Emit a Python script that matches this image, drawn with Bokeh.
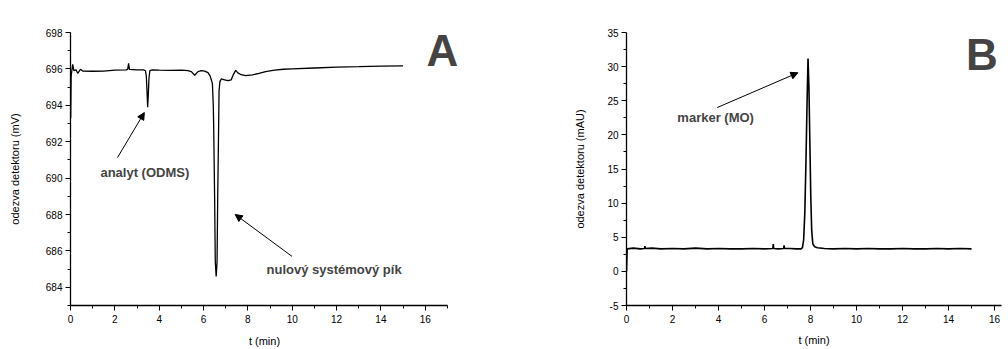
from bokeh.plotting import figure
from bokeh.layouts import row
from bokeh.models import (Label, Arrow, NormalHead, FixedTicker, Range1d)
from bokeh.embed import file_html
from bokeh.resources import INLINE

# ---------------- data ----------------
a_time = [0.00, 0.01, 0.03, 0.06, 0.10, 0.15, 0.25, 0.33, 0.45, 0.55, 1.0, 1.5, 2.0, 2.5,
          2.58, 2.62, 2.66, 3.0, 3.3, 3.38, 3.42, 3.45, 3.48, 3.51, 3.54, 3.58, 3.7,
          4.0, 4.5, 5.0, 5.3, 5.45, 5.6, 5.75, 5.9, 6.05, 6.2, 6.3, 6.4, 6.44, 6.46,
          6.5, 6.53, 6.57, 6.61, 6.64, 6.68, 6.70, 6.74, 6.8, 6.95, 7.1, 7.25, 7.35,
          7.45, 7.55, 7.7, 7.9, 8.2, 8.5, 8.8, 9.2, 9.6, 10.0, 11.0, 12.0, 13.0, 14.0, 15.0]
a_signal = [695.8, 693.3, 695.6, 695.9, 696.25, 695.9, 695.95, 695.75, 695.98, 695.88,
            695.87, 695.88, 695.93, 695.95, 695.97, 696.3, 695.97, 695.95, 695.95, 695.9,
            695.6, 694.8, 693.9, 694.6, 695.5, 695.9, 695.95, 695.93, 695.92, 695.93,
            695.9, 695.85, 695.65, 695.85, 695.9, 695.88, 695.8, 695.6, 695.2, 694.0,
            692.7, 689.0, 685.4, 684.6, 685.4, 689.0, 692.7, 694.8, 695.3, 695.45, 695.4,
            695.35, 695.4, 695.7, 695.92, 695.78, 695.68, 695.63, 695.67, 695.75, 695.85,
            695.93, 695.98, 696.0, 696.05, 696.1, 696.12, 696.15, 696.17]

b_time = [0.00, 0.03, 0.3, 0.6, 0.78, 0.8, 0.82, 1.1, 1.5, 2.0, 2.5, 3.0, 3.5, 4.0, 4.5,
          5.0, 5.5, 6.0, 6.36, 6.38, 6.40, 6.6, 6.83, 6.85, 6.87, 7.1, 7.4, 7.6, 7.65,
          7.7, 7.75, 7.8, 7.85, 7.89, 7.93, 7.97, 8.01, 8.05, 8.1, 8.18, 8.3, 8.6, 9.0,
          9.5, 10.0, 10.5, 11.0, 11.5, 12.0, 12.5, 13.0, 13.5, 14.0, 14.5, 15.0]
b_signal = [0.0, 3.3, 3.4, 3.3, 3.35, 3.7, 3.35, 3.4, 3.3, 3.35, 3.3, 3.4, 3.3, 3.35, 3.3,
            3.3, 3.35, 3.3, 3.35, 4.0, 3.35, 3.3, 3.35, 3.8, 3.35, 3.35, 3.3, 3.3, 3.5,
            4.6, 8.5, 16.0, 25.0, 31.2, 27.0, 19.0, 11.0, 6.0, 4.0, 3.6, 3.45, 3.35, 3.3,
            3.35, 3.3, 3.35, 3.3, 3.3, 3.35, 3.3, 3.3, 3.35, 3.3, 3.35, 3.3]

x_ticks = [0, 2, 4, 6, 8, 10, 12, 14, 16]
x_minor = [1, 3, 5, 7, 9, 11, 13, 15, 17]
a_yticks = [684, 686, 688, 690, 692, 694, 696, 698]
a_yminor = [683, 685, 687, 689, 691, 693, 695, 697]
b_yticks = [-5, 0, 5, 10, 15, 20, 25, 30, 35]
b_yminor = [-2.5, 2.5, 7.5, 12.5, 17.5, 22.5, 27.5, 32.5]

FONT = "Liberation Sans"


def style(p):
    p.outline_line_color = None
    p.grid.visible = False
    p.background_fill_color = "white"
    p.border_fill_color = "white"
    for ax in p.axis:
        ax.axis_line_width = 1.3
        ax.axis_line_color = "black"
        ax.major_tick_out = 5
        ax.major_tick_in = 0
        ax.minor_tick_out = 3
        ax.minor_tick_in = 0
        ax.major_tick_line_color = "black"
        ax.minor_tick_line_color = "black"
        ax.major_label_text_font = FONT
        ax.major_label_text_font_size = "10px"
        ax.major_label_text_color = "black"
        ax.axis_label_text_font = FONT
        ax.axis_label_text_font_size = "11px"
        ax.axis_label_text_font_style = "normal"
        ax.axis_label_text_color = "black"
        ax.major_label_standoff = 3


head = dict(size=7, fill_color="black", line_color="black")

# ---------------- panel A ----------------
p1 = figure(width=470, height=349, output_backend="svg", toolbar_location=None,
            x_range=Range1d(0, 17.5), y_range=Range1d(683, 698),
            min_border_left=70, min_border_right=12, min_border_top=32, min_border_bottom=41)
p1.line(a_time, a_signal, line_color="black", line_width=1.3)
style(p1)
p1.xaxis.ticker = FixedTicker(ticks=x_ticks, minor_ticks=x_minor)
p1.xaxis.bounds = (0, 17)
p1.yaxis.ticker = FixedTicker(ticks=a_yticks, minor_ticks=a_yminor)
p1.xaxis.axis_label = "t (min)"
p1.yaxis.axis_label = "odezva detektoru (mV)"
p1.xaxis.major_label_standoff = 4
p1.xaxis.axis_label_standoff = 9
p1.yaxis.axis_label_standoff = 22

p1.add_layout(Label(x=1.35, y=690.3, text="analyt (ODMS)", text_font=FONT,
                    text_font_size="13px", text_font_style="bold", text_baseline="middle"))
p1.add_layout(Label(x=8.84, y=684.98, text="nulový systémový pík", text_font=FONT,
                    text_font_size="13px", text_font_style="bold", text_baseline="middle"))
p1.add_layout(Arrow(x_start=2.12, y_start=691.13, x_end=3.33, y_end=693.6, line_width=1,
                    end=NormalHead(**head)))
p1.add_layout(Arrow(x_start=9.99, y_start=685.7, x_end=7.43, y_end=688.0, line_width=1,
                    end=NormalHead(**head)))
p1.add_layout(Label(x=16.77, y=697.0, text="A", text_font=FONT, text_font_size="44px",
                    text_font_style="bold", text_align="center", text_baseline="middle"))

# ---------------- panel B ----------------
p2 = figure(width=534, height=349, output_backend="svg", toolbar_location=None,
            x_range=Range1d(0, 16.3), y_range=Range1d(-5, 35),
            min_border_left=156, min_border_right=3, min_border_top=19, min_border_bottom=43)
p2.line(b_time, b_signal, line_color="black", line_width=1.6)
style(p2)
p2.xaxis.ticker = FixedTicker(ticks=x_ticks, minor_ticks=x_minor)
p2.yaxis.ticker = FixedTicker(ticks=b_yticks, minor_ticks=b_yminor)
p2.yaxis.major_label_overrides = {-5: "-5"}
p2.xaxis.axis_label = "t (min)"
p2.yaxis.axis_label = "odezva detektoru (mAU)"
p2.xaxis.major_label_standoff = 4
p2.xaxis.axis_label_standoff = 8
p2.yaxis.axis_label_standoff = 18

p2.add_layout(Label(x=2.21, y=22.5, text="marker (MO)", text_font=FONT,
                    text_font_size="13px", text_font_style="bold", text_baseline="middle"))
p2.add_layout(Arrow(x_start=3.94, y_start=24.0, x_end=7.45, y_end=29.1, line_width=1,
                    end=NormalHead(**head)))
p2.add_layout(Label(x=15.45, y=31.8, text="B", text_font=FONT, text_font_size="44px",
                    text_font_style="bold", text_align="center", text_baseline="middle"))

layout = row(p1, p2)
open("out.html", "w").write(file_html(layout, INLINE))
